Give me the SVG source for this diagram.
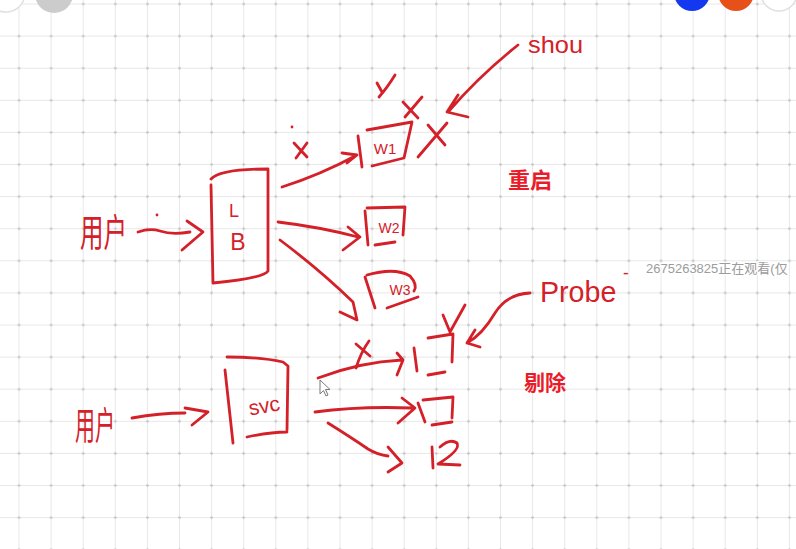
<svg xmlns="http://www.w3.org/2000/svg" width="796" height="549" viewBox="0 0 796 549">
<style>
.ink{fill:none;stroke:#d42029;stroke-width:2.8;stroke-linecap:round;stroke-linejoin:round}
.hand{fill:#d42029;font-family:"Liberation Sans","Noto Sans CJK SC",sans-serif}
.bold{fill:#ea1c2a;font-family:"Noto Sans CJK SC","Liberation Sans",sans-serif;font-weight:bold}
.grid{fill:none;stroke:#e8e8e8;stroke-width:1}
</style>
<defs>
<pattern id="dots" patternUnits="userSpaceOnUse" x="2.95" y="-12.05" width="32.1" height="32.1">
<circle cx="16.05" cy="16.05" r="1.3" fill="#c4c4c4"/>
</pattern>
</defs>
<rect width="796" height="549" fill="#ffffff"/>
<path class="grid" d="M19,0V549M51.1,0V549M83.2,0V549M115.3,0V549M147.4,0V549M179.5,0V549M211.6,0V549M243.7,0V549M275.8,0V549M307.9,0V549M340,0V549M372.1,0V549M404.2,0V549M436.3,0V549M468.4,0V549M500.5,0V549M532.6,0V549M564.7,0V549M596.8,0V549M628.9,0V549M661,0V549M693.1,0V549M725.2,0V549M757.3,0V549M789.4,0V549M0,4H796M0,36.1H796M0,68.2H796M0,100.3H796M0,132.4H796M0,164.5H796M0,196.6H796M0,228.7H796M0,260.8H796M0,292.9H796M0,325H796M0,357.1H796M0,389.2H796M0,421.3H796M0,453.4H796M0,485.5H796M0,517.6H796"/>
<rect width="796" height="549" fill="url(#dots)"/>

<g id="toolbar">
<circle cx="6" cy="-7" r="19" fill="#ffffff" stroke="#e0e0e0" stroke-width="1.5"/>
<circle cx="54" cy="-6" r="19" fill="#cccccc"/>
<circle cx="692" cy="-7" r="18" fill="#1438f0"/>
<circle cx="736" cy="-7" r="18" fill="#e8501a"/>
<circle cx="779" cy="-7" r="18" fill="#ffffff" stroke="#e0e0e0" stroke-width="1.5"/>
</g>

<g id="user1"><text class="hand" x="80" y="246" font-size="38" textLength="47" lengthAdjust="spacingAndGlyphs">用户</text></g>
<g id="lb">
<path class="ink" d="M211,185 L213,283 M211,179 Q220,169 268,169 L268,271 Q264,278 213,283"/>
<text class="hand" x="234" y="217" font-size="18" text-anchor="middle">L</text>
<text class="hand" x="238" y="250" font-size="23" text-anchor="middle">B</text>
</g>
<g id="w1">
<path class="ink" d="M358,136 L362,167 M367,130 L412,122 L404,158 L372,166"/>
<text class="hand" x="385" y="154" font-size="15" text-anchor="middle">W1</text>
</g>
<g id="w2">
<path class="ink" d="M365,211 L368,245 M367,208 L405,207 L403,235 M375,245 L395,242"/>
<text class="hand" x="389" y="233" font-size="14" text-anchor="middle">W2</text>
</g>
<g id="w3">
<path class="ink" d="M365,277 L375,308 M367,275 Q395,267 410,276 Q418,285 414,291 M387,308 L418,297"/>
<text class="hand" x="400" y="295" font-size="14" text-anchor="middle">W3</text>
</g>
<g id="shou"><text class="hand" x="528" y="53" font-size="24" textLength="55" lengthAdjust="spacingAndGlyphs">shou</text></g>
<g id="restart"><text class="bold" x="508" y="188" font-size="22">重启</text></g>

<g id="user2"><text class="hand" x="75" y="439" font-size="38" textLength="40" lengthAdjust="spacingAndGlyphs">用户</text></g>
<g id="svc">
<path class="ink" d="M225,370 L233,443 M227,357 Q260,357 283,362 L288,366 L287,430 M247,437 Q270,432 287,432"/>
<text class="hand" x="264" y="413" font-size="21" text-anchor="middle" transform="rotate(-10 264 405)">svc</text>
</g>
<g id="pod1"><path class="ink" d="M414,348 L417,371 M428,338 L453,334 L452,362 M428,375 L445,372"/></g>
<g id="pod2"><path class="ink" d="M418,403 L425,422 M423,400 L453,397 L452,418 M432,425 L452,422"/></g>
<g id="pod3"><path class="ink" d="M432,447 L433,468 M440,447 Q450,438 457,443 Q461,450 438,464 L460,465"/></g>
<g id="probe"><text class="hand" x="540" y="302" font-size="30" textLength="82" lengthAdjust="spacingAndGlyphs">Probe<tspan x="623" y="279" font-size="18">-</tspan></text></g>
<g id="evict"><text class="bold" x="524" y="390" font-size="21">剔除</text></g>

<g id="marks">
<circle cx="157" cy="215" r="1.4" fill="#d42029"/>
<circle cx="292" cy="127" r="1.4" fill="#d42029"/>
<path class="ink" d="M294,143 L307,157 M307,143 L296,158"/>
<path class="ink" d="M377,83 L382,92 M395,75 Q387,88 379,97"/>
<path class="ink" d="M403,102 L418,118 M422,97 L405,117"/>
<path class="ink" d="M428,125 L445,145 M447,123 L418,157"/>
<path class="ink" d="M356,344 L370,356 M369,341 Q361,352 356,368"/>
<path class="ink" d="M443,315 L450,332 L465,305"/>
</g>

<g id="connectors">
<path class="ink" d="M138,232 Q150,228 160,231 Q172,235 190,232 M187,221 L203,232 L182,250"/>
<path class="ink" d="M282,187 Q320,175 357,155 M342,153 L357,155 L347,163"/>
<path class="ink" d="M278,222 Q320,227 358,237 M348,227 L360,237 L343,250"/>
<path class="ink" d="M280,240 Q320,270 353,302 L357,320 L340,312"/>
<path class="ink" d="M518,45 Q480,75 448,112 M458,95 L447,112 L468,117"/>
<path class="ink" d="M132,418 Q160,413 185,413 M185,408 L208,412 L192,425"/>
<path class="ink" d="M318,378 Q360,362 402,360 M397,353 L403,360 L397,375"/>
<path class="ink" d="M315,412 Q360,406 412,408 M402,398 L415,408 L398,423"/>
<path class="ink" d="M328,423 Q352,438 368,449 Q378,455 388,456 M388,447 L402,463 L388,472"/>
<path class="ink" d="M530,293 Q507,294 495,313 Q482,335 467,343 M475,330 L467,343 L480,347"/>
</g>

<g id="cursor"><path d="M320,380 L320,394 L323.5,390.5 L326,396 L328,395 L325.5,389.5 L330,389.5 Z" fill="#ffffff" stroke="#777777" stroke-width="1"/></g>

<g id="watermark"><text x="646" y="273" font-size="13" font-family="'Liberation Sans','Noto Sans CJK SC',sans-serif" fill="#9c9c9c" stroke="#ffffff" stroke-width="2.5" paint-order="stroke">2675263825正在观看(仅</text></g>
</svg>
